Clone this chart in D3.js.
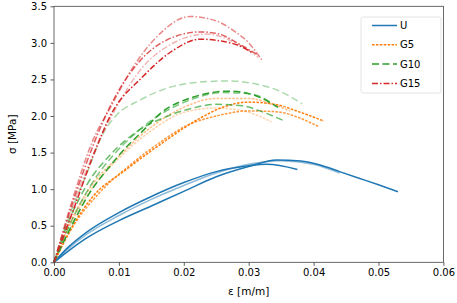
<!DOCTYPE html>
<html>
<head>
<meta charset="utf-8">
<script src="https://cdn.jsdelivr.net/npm/d3@7"></script>
<style>
  body { margin: 0; background: #fff; }
  text { font-family: "DejaVu Sans", sans-serif; }
</style>
</head>
<body>
<div id="chart"></div>
<script>
// tick values
const xTicks = [0, 0.01, 0.02, 0.03, 0.04, 0.05, 0.06]
const yTicks = [0, 0.5, 1.0, 1.5, 2.0, 2.5, 3.0, 3.5]

// U specimens (strain, stress)
const u1Strain = [0, 0.002, 0.005, 0.01, 0.015, 0.02, 0.025, 0.03, 0.0328, 0.0375]
const u1Stress = [0, 0.19, 0.41, 0.68, 0.90, 1.09, 1.24, 1.32, 1.34, 1.27]
const u2Strain = [0, 0.002, 0.005, 0.01, 0.015, 0.02, 0.025, 0.03, 0.0343, 0.038, 0.041, 0.044, 0.047, 0.050, 0.053]
const u2Stress = [0, 0.14, 0.33, 0.57, 0.77, 0.97, 1.17, 1.31, 1.40, 1.385, 1.33, 1.24, 1.15, 1.06, 0.965]
const u3Strain = [0, 0.002, 0.005, 0.01, 0.015, 0.02, 0.025, 0.03, 0.035, 0.04, 0.044]
const u3Stress = [0, 0.17, 0.38, 0.64, 0.86, 1.05, 1.22, 1.34, 1.39, 1.34, 1.22]

// G5 specimens
const g5aStrain = [0, 0.0025, 0.006, 0.011, 0.0165, 0.0225, 0.026, 0.03, 0.034, 0.038, 0.0416]
const g5aStress = [0, 0.44, 0.90, 1.26, 1.62, 1.97, 2.12, 2.19, 2.16, 2.05, 1.93]
const g5bStrain = [0, 0.003, 0.007, 0.012, 0.017, 0.02, 0.025, 0.03, 0.034, 0.0407]
const g5bStress = [0, 0.50, 0.95, 1.35, 1.68, 1.85, 2.00, 2.07, 2.06, 1.86]
const g5cStrain = [0, 0.002, 0.005, 0.01, 0.015, 0.02, 0.025, 0.03, 0.034, 0.0364]
const g5cStress = [0, 0.45, 0.95, 1.45, 1.85, 2.12, 2.24, 2.24, 2.15, 2.07]
const g5dStrain = [0, 0.002, 0.005, 0.01, 0.015, 0.02, 0.025, 0.03, 0.0335]
const g5dStress = [0, 0.42, 0.90, 1.42, 1.80, 2.05, 2.11, 2.05, 1.92]

// G10 specimens
const g10aStrain = [0, 0.002, 0.005, 0.0075, 0.0095, 0.0133, 0.0174, 0.022, 0.027, 0.031, 0.0345, 0.0382]
const g10aStress = [0, 0.55, 1.20, 1.75, 2.00, 2.22, 2.38, 2.46, 2.48, 2.44, 2.35, 2.17]
const g10bStrain = [0, 0.003, 0.0055, 0.0085, 0.0112, 0.0135, 0.0163, 0.0215, 0.0271, 0.031, 0.0345]
const g10bStress = [0, 0.55, 0.95, 1.30, 1.58, 1.78, 2.03, 2.26, 2.34, 2.28, 2.12]
const g10cStrain = [0, 0.003, 0.006, 0.009, 0.012, 0.016, 0.021, 0.026, 0.0305, 0.0335]
const g10cStress = [0, 0.62, 1.10, 1.45, 1.72, 2.00, 2.22, 2.32, 2.30, 2.18]
const g10dStrain = [0, 0.002, 0.005, 0.009, 0.013, 0.017, 0.021, 0.025, 0.029, 0.032, 0.0353]
const g10dStress = [0, 0.50, 1.05, 1.50, 1.80, 1.98, 2.10, 2.16, 2.14, 2.06, 1.94]

// G15 specimens
const g15aStrain = [0, 0.003, 0.006, 0.0086, 0.0122, 0.0158, 0.021, 0.025, 0.0276, 0.03, 0.032]
const g15aStress = [0, 0.90, 1.67, 2.10, 2.67, 3.08, 3.36, 3.30, 3.17, 3.00, 2.77]
const g15bStrain = [0, 0.003, 0.0091, 0.0133, 0.0174, 0.0225, 0.025, 0.0292, 0.0315]
const g15bStress = [0, 0.85, 2.21, 2.76, 3.04, 3.15, 3.13, 2.95, 2.83]
const g15cStrain = [0, 0.003, 0.006, 0.0086, 0.0137, 0.0184, 0.0225, 0.0276, 0.0307]
const g15cStress = [0, 0.72, 1.45, 1.99, 2.54, 2.90, 3.05, 2.99, 2.86]
const g15dStrain = [0, 0.003, 0.0095, 0.0135, 0.018, 0.0235, 0.028, 0.0315]
const g15dStress = [0, 0.80, 2.10, 2.65, 2.98, 3.12, 3.00, 2.80]

const legendNames = ["U", "G5", "G10", "G15"]

const colors = {U: "#1f77b4", G5: "#ff7f0e", G10: "#2ca02c", G15: "#d62728"}
const dashes = {U: null, G5: "2.6,1.3", G10: "7,3.5", G15: "6,2,1.5,2"}

const curves = [
  {g: "U", e: u2Strain, s: u2Stress, a: 1},
  {g: "U", e: u3Strain, s: u3Stress, a: 0.5},
  {g: "U", e: u1Strain, s: u1Stress, a: 1},
  {g: "G5", e: g5dStrain, s: g5dStress, a: 0.35},
  {g: "G5", e: g5cStrain, s: g5cStress, a: 0.5},
  {g: "G5", e: g5bStrain, s: g5bStress, a: 0.8},
  {g: "G5", e: g5aStrain, s: g5aStress, a: 1},
  {g: "G10", e: g10aStrain, s: g10aStress, a: 0.4},
  {g: "G10", e: g10dStrain, s: g10dStress, a: 0.7},
  {g: "G10", e: g10cStrain, s: g10cStress, a: 0.6},
  {g: "G10", e: g10bStrain, s: g10bStress, a: 1},
  {g: "G15", e: g15aStrain, s: g15aStress, a: 0.55},
  {g: "G15", e: g15dStrain, s: g15dStress, a: 0.35},
  {g: "G15", e: g15bStrain, s: g15bStress, a: 0.75},
  {g: "G15", e: g15cStrain, s: g15cStress, a: 1}
]

const width = 457
const height = 303
const margin = {top: 6.3, right: 13.6, bottom: 40.7, left: 54}
const w = width - margin.left - margin.right
const h = height - margin.top - margin.bottom

const svg = d3.select("#chart")
  .append("svg")
  .attr("width", width)
  .attr("height", height)
  .append("g")
  .attr("transform", "translate(" + margin.left + "," + margin.top + ")")

var x = d3.scaleLinear()
  .domain([0, 0.06])
  .range([0, w])

var y = d3.scaleLinear()
  .domain([0, 3.5])
  .range([h, 0])

// curves
const line = d3.line()
  .x(function (d) { return x(d[0]) })
  .y(function (d) { return y(d[1]) })
  .curve(d3.curveMonotoneX)

svg.append("g")
  .selectAll("path")
  .data(curves)
  .enter()
  .append("path")
  .attr("d", function (c) { return line(d3.zip(c.e, c.s)) })
  .attr("fill", "none")
  .attr("stroke", function (c) { return colors[c.g] })
  .attr("stroke-opacity", function (c) { return c.a })
  .attr("stroke-width", 1.5)
  .attr("stroke-dasharray", function (c) { return dashes[c.g] })

// axes
const xAxis = svg.append("g")
  .attr("transform", "translate(0," + h + ")")
  .call(d3.axisBottom(x).tickValues(xTicks).tickFormat(d3.format(".2f")).tickSize(3.5).tickPadding(3.5))
const yAxis = svg.append("g")
  .call(d3.axisLeft(y).tickValues(yTicks).tickFormat(d3.format(".1f")).tickSize(3.5).tickPadding(3.5))

;[xAxis, yAxis].forEach(function (a) {
  a.attr("font-family", "DejaVu Sans").attr("font-size", 10)
  a.select(".domain").remove()
  a.selectAll("line").attr("stroke", "#333").attr("stroke-width", 0.8)
  a.selectAll("text").attr("fill", "#000")
})

svg.append("rect")
  .attr("width", w)
  .attr("height", h)
  .attr("fill", "none")
  .attr("stroke", "#444")
  .attr("stroke-width", 0.8)

svg.append("text")
  .attr("x", w / 2)
  .attr("y", h + 33)
  .style("text-anchor", "middle")
  .style("font-size", "10.5px")
  .attr("fill", "#000")
  .text("ε [m/m]")

svg.append("text")
  .attr("transform", "rotate(-90)")
  .attr("x", -h / 2)
  .attr("y", -38)
  .style("text-anchor", "middle")
  .style("font-size", "10.5px")
  .attr("fill", "#000")
  .text("σ [MPa]")

// legend
const legend = svg.append("g")
  .attr("transform", "translate(" + (361 - margin.left) + "," + (17 - margin.top) + ")")

legend.append("rect")
  .attr("width", 80)
  .attr("height", 76)
  .attr("rx", 2)
  .attr("fill", "#fff")
  .attr("fill-opacity", 0.8)
  .attr("stroke", "#ddd")
  .attr("stroke-width", 0.8)

const rows = legend.selectAll(".row")
  .data(legendNames)
  .enter()
  .append("g")
  .attr("transform", function (d, i) { return "translate(0," + (8.5 + i * 19.3) + ")" })

rows.append("line")
  .attr("x1", 11)
  .attr("x2", 36)
  .attr("stroke", function (d) { return colors[d] })
  .attr("stroke-width", 1.5)
  .attr("stroke-dasharray", function (d) { return dashes[d] })

rows.append("text")
  .attr("x", 39)
  .attr("dy", "0.35em")
  .style("font-size", "10px")
  .attr("fill", "#000")
  .text(function (d) { return d })
</script>
</body>
</html>
